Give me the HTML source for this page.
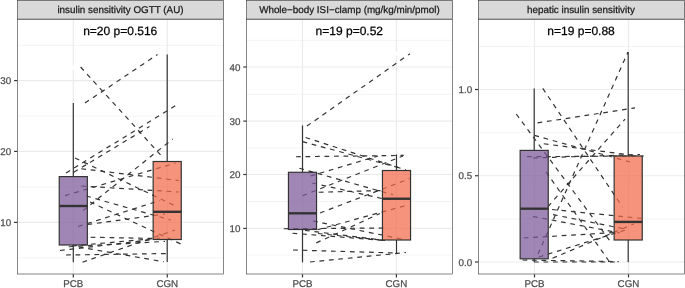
<!DOCTYPE html>
<html><head><meta charset="utf-8"><title>plot</title>
<style>html,body{margin:0;padding:0;background:#fff}svg{display:block}text{font-family:"Liberation Sans",Arial,Helvetica,sans-serif;text-rendering:geometricPrecision;paint-order:stroke;stroke-width:0.25px;stroke-linejoin:round}</style></head>
<body>
<svg width="685" height="288" viewBox="0 0 685 288">
<rect width="685" height="288" fill="#fff"/>
<g>
<clipPath id="c0"><rect x="17.2" y="19.35" width="206.60000000000002" height="254.95000000000002"/></clipPath>
<line x1="17.2" x2="223.8" y1="45.3" y2="45.3" stroke="#EBEBEB" stroke-width="0.59"/>
<line x1="17.2" x2="223.8" y1="116.1" y2="116.1" stroke="#EBEBEB" stroke-width="0.59"/>
<line x1="17.2" x2="223.8" y1="186.9" y2="186.9" stroke="#EBEBEB" stroke-width="0.59"/>
<line x1="17.2" x2="223.8" y1="257.8" y2="257.8" stroke="#EBEBEB" stroke-width="0.59"/>
<line x1="17.2" x2="223.8" y1="80.6" y2="80.6" stroke="#EBEBEB" stroke-width="1.19"/>
<line x1="17.2" x2="223.8" y1="151.4" y2="151.4" stroke="#EBEBEB" stroke-width="1.19"/>
<line x1="17.2" x2="223.8" y1="222.4" y2="222.4" stroke="#EBEBEB" stroke-width="1.19"/>
<line x1="73.3" x2="73.3" y1="19.35" y2="274.3" stroke="#EBEBEB" stroke-width="1.19"/>
<line x1="167.3" x2="167.3" y1="19.35" y2="274.3" stroke="#EBEBEB" stroke-width="1.19"/>
<g clip-path="url(#c0)" stroke="#333" stroke-width="1.19" stroke-dasharray="4.75 4.75" fill="none">
<line x1="80.6" y1="67" x2="162.5" y2="157"/>
<line x1="85" y1="103" x2="157.5" y2="54.5"/>
<line x1="66" y1="173" x2="178.2" y2="104"/>
<line x1="73.75" y1="172.25" x2="149.5" y2="126.5"/>
<line x1="83" y1="210.6" x2="172.7" y2="139"/>
<line x1="75" y1="158" x2="177.5" y2="207"/>
<line x1="81.25" y1="168.75" x2="178.75" y2="180.5"/>
<line x1="65" y1="195.6" x2="175.6" y2="163"/>
<line x1="81.25" y1="186" x2="178.75" y2="192"/>
<line x1="86.25" y1="196" x2="170.6" y2="220"/>
<line x1="90" y1="202" x2="184" y2="245.5"/>
<line x1="78" y1="226.5" x2="160" y2="200.5"/>
<line x1="87.5" y1="224.5" x2="165" y2="214"/>
<line x1="90.6" y1="237.25" x2="152" y2="238.4"/>
<line x1="60" y1="250.5" x2="158" y2="239"/>
<line x1="68.75" y1="246.75" x2="165" y2="241.4"/>
<line x1="72" y1="246" x2="160" y2="238"/>
<line x1="66" y1="255" x2="170" y2="253.5"/>
<line x1="78.75" y1="247" x2="163.75" y2="261.75"/>
<line x1="82.5" y1="262.25" x2="175" y2="230"/>
</g>
<line x1="73.3" x2="73.3" y1="103" y2="176.6" stroke="#333" stroke-width="1.19"/>
<line x1="73.3" x2="73.3" y1="245.0" y2="262.2" stroke="#333" stroke-width="1.19"/>
<rect x="59.25" y="176.6" width="28.1" height="68.4" fill="#7B5898" fill-opacity="0.72" stroke="#333" stroke-width="1.19"/>
<line x1="59.25" x2="87.35" y1="206.0" y2="206.0" stroke="#333" stroke-width="2.38"/>
<line x1="167.2" x2="167.2" y1="54.5" y2="161.5" stroke="#333" stroke-width="1.19"/>
<line x1="167.2" x2="167.2" y1="239.5" y2="262" stroke="#333" stroke-width="1.19"/>
<rect x="153.14999999999998" y="161.5" width="28.1" height="78.0" fill="#F16A49" fill-opacity="0.72" stroke="#333" stroke-width="1.19"/>
<line x1="153.14999999999998" x2="181.25" y1="211.8" y2="211.8" stroke="#333" stroke-width="2.38"/>
<circle cx="73.3" cy="67.6" r="2.3" fill="#fff"/>
<text x="120.20" y="35.4" font-size="12" text-anchor="middle" fill="#000" stroke="#000">n=20 p=0.516</text>
<rect x="17.50" y="19.65" width="206.01" height="254.36" fill="none" stroke="#333" stroke-width="0.59"/>
<rect x="17.2" y="0.2" width="206.60" height="19.15" fill="#D9D9D9"/>
<rect x="17.50" y="0.50" width="206.01" height="18.56" fill="none" stroke="#333" stroke-width="0.59"/>
<text x="120.50" y="13.3" font-size="9.86" text-anchor="middle" fill="#1A1A1A" stroke="#1A1A1A">insulin sensitivity OGTT (AU)</text>
<line x1="14.1" x2="17.2" y1="80.6" y2="80.6" stroke="#333" stroke-width="1.19"/>
<text x="11.20" y="84.1" font-size="9.8" text-anchor="end" fill="#4D4D4D" stroke="#4D4D4D">30</text>
<line x1="14.1" x2="17.2" y1="151.4" y2="151.4" stroke="#333" stroke-width="1.19"/>
<text x="11.20" y="154.9" font-size="9.8" text-anchor="end" fill="#4D4D4D" stroke="#4D4D4D">20</text>
<line x1="14.1" x2="17.2" y1="222.4" y2="222.4" stroke="#333" stroke-width="1.19"/>
<text x="11.20" y="225.9" font-size="9.8" text-anchor="end" fill="#4D4D4D" stroke="#4D4D4D">10</text>
<line x1="73.3" x2="73.3" y1="274.3" y2="277.40000000000003" stroke="#333" stroke-width="1.19"/>
<text x="73.3" y="287" font-size="9.8" text-anchor="middle" fill="#4D4D4D" stroke="#4D4D4D">PCB</text>
<line x1="167.3" x2="167.3" y1="274.3" y2="277.40000000000003" stroke="#333" stroke-width="1.19"/>
<text x="167.3" y="287" font-size="9.8" text-anchor="middle" fill="#4D4D4D" stroke="#4D4D4D">CGN</text>
</g>
<g>
<clipPath id="c1"><rect x="246.4" y="19.35" width="206.4" height="254.95000000000002"/></clipPath>
<line x1="246.4" x2="452.8" y1="40.3" y2="40.3" stroke="#EBEBEB" stroke-width="0.59"/>
<line x1="246.4" x2="452.8" y1="94.3" y2="94.3" stroke="#EBEBEB" stroke-width="0.59"/>
<line x1="246.4" x2="452.8" y1="148" y2="148" stroke="#EBEBEB" stroke-width="0.59"/>
<line x1="246.4" x2="452.8" y1="201.5" y2="201.5" stroke="#EBEBEB" stroke-width="0.59"/>
<line x1="246.4" x2="452.8" y1="255.1" y2="255.1" stroke="#EBEBEB" stroke-width="0.59"/>
<line x1="246.4" x2="452.8" y1="67" y2="67" stroke="#EBEBEB" stroke-width="1.19"/>
<line x1="246.4" x2="452.8" y1="121.1" y2="121.1" stroke="#EBEBEB" stroke-width="1.19"/>
<line x1="246.4" x2="452.8" y1="174.5" y2="174.5" stroke="#EBEBEB" stroke-width="1.19"/>
<line x1="246.4" x2="452.8" y1="228.4" y2="228.4" stroke="#EBEBEB" stroke-width="1.19"/>
<line x1="302.5" x2="302.5" y1="19.35" y2="274.3" stroke="#EBEBEB" stroke-width="1.19"/>
<line x1="396.4" x2="396.4" y1="19.35" y2="274.3" stroke="#EBEBEB" stroke-width="1.19"/>
<g clip-path="url(#c1)" stroke="#333" stroke-width="1.19" stroke-dasharray="4.75 4.75" fill="none">
<line x1="306.9" y1="126.1" x2="410" y2="53.7"/>
<line x1="305.6" y1="137.5" x2="406" y2="170"/>
<line x1="302.5" y1="141.6" x2="400" y2="168"/>
<line x1="296" y1="156.75" x2="403.75" y2="155.4"/>
<line x1="302.5" y1="195.75" x2="403" y2="156"/>
<line x1="310.6" y1="176" x2="378" y2="156"/>
<line x1="320" y1="213" x2="410" y2="178.5"/>
<line x1="299.4" y1="168.25" x2="393" y2="194.75"/>
<line x1="312.25" y1="183" x2="382" y2="198.5"/>
<line x1="318.75" y1="192.25" x2="382" y2="190.5"/>
<line x1="313" y1="221" x2="402.5" y2="239.2"/>
<line x1="317.5" y1="229.75" x2="405" y2="205.75"/>
<line x1="316.25" y1="242.9" x2="380" y2="213.5"/>
<line x1="283.75" y1="228.75" x2="386" y2="228"/>
<line x1="292.5" y1="233.25" x2="386" y2="240.6"/>
<line x1="305" y1="230.4" x2="390" y2="241"/>
<line x1="318" y1="233.5" x2="380" y2="240"/>
<line x1="293" y1="250" x2="396" y2="253"/>
<line x1="310" y1="262" x2="406" y2="252.5"/>
</g>
<line x1="302.5" x2="302.5" y1="125.4" y2="172.3" stroke="#333" stroke-width="1.19"/>
<line x1="302.5" x2="302.5" y1="229.5" y2="262.4" stroke="#333" stroke-width="1.19"/>
<rect x="288.45" y="172.3" width="28.1" height="57.19999999999999" fill="#7B5898" fill-opacity="0.72" stroke="#333" stroke-width="1.19"/>
<line x1="288.45" x2="316.55" y1="213.3" y2="213.3" stroke="#333" stroke-width="2.38"/>
<line x1="396.5" x2="396.5" y1="154.4" y2="170.5" stroke="#333" stroke-width="1.19"/>
<line x1="396.5" x2="396.5" y1="240" y2="253.5" stroke="#333" stroke-width="1.19"/>
<rect x="382.45" y="170.5" width="28.1" height="69.5" fill="#F16A49" fill-opacity="0.72" stroke="#333" stroke-width="1.19"/>
<line x1="382.45" x2="410.55" y1="198.75" y2="198.75" stroke="#333" stroke-width="2.38"/>
<circle cx="396.4" cy="53.3" r="2.3" fill="#fff"/>
<text x="349.30" y="35.4" font-size="12" text-anchor="middle" fill="#000" stroke="#000">n=19 p=0.52</text>
<rect x="246.70" y="19.65" width="205.81" height="254.36" fill="none" stroke="#333" stroke-width="0.59"/>
<rect x="246.4" y="0.2" width="206.40" height="19.15" fill="#D9D9D9"/>
<rect x="246.70" y="0.50" width="205.81" height="18.56" fill="none" stroke="#333" stroke-width="0.59"/>
<text x="349.40" y="13.3" font-size="9.86" text-anchor="middle" fill="#1A1A1A" stroke="#1A1A1A">Whole−body ISI−clamp (mg/kg/min/pmol)</text>
<line x1="243.3" x2="246.4" y1="67" y2="67" stroke="#333" stroke-width="1.19"/>
<text x="240.40" y="70.5" font-size="9.8" text-anchor="end" fill="#4D4D4D" stroke="#4D4D4D">40</text>
<line x1="243.3" x2="246.4" y1="121.1" y2="121.1" stroke="#333" stroke-width="1.19"/>
<text x="240.40" y="124.6" font-size="9.8" text-anchor="end" fill="#4D4D4D" stroke="#4D4D4D">30</text>
<line x1="243.3" x2="246.4" y1="174.5" y2="174.5" stroke="#333" stroke-width="1.19"/>
<text x="240.40" y="178.0" font-size="9.8" text-anchor="end" fill="#4D4D4D" stroke="#4D4D4D">20</text>
<line x1="243.3" x2="246.4" y1="228.4" y2="228.4" stroke="#333" stroke-width="1.19"/>
<text x="240.40" y="231.9" font-size="9.8" text-anchor="end" fill="#4D4D4D" stroke="#4D4D4D">10</text>
<line x1="302.5" x2="302.5" y1="274.3" y2="277.40000000000003" stroke="#333" stroke-width="1.19"/>
<text x="302.5" y="287" font-size="9.8" text-anchor="middle" fill="#4D4D4D" stroke="#4D4D4D">PCB</text>
<line x1="396.4" x2="396.4" y1="274.3" y2="277.40000000000003" stroke="#333" stroke-width="1.19"/>
<text x="396.4" y="287" font-size="9.8" text-anchor="middle" fill="#4D4D4D" stroke="#4D4D4D">CGN</text>
</g>
<g>
<clipPath id="c2"><rect x="478.1" y="19.35" width="206.89999999999998" height="254.95000000000002"/></clipPath>
<line x1="478.1" x2="685.0" y1="46.4" y2="46.4" stroke="#EBEBEB" stroke-width="0.59"/>
<line x1="478.1" x2="685.0" y1="132.6" y2="132.6" stroke="#EBEBEB" stroke-width="0.59"/>
<line x1="478.1" x2="685.0" y1="218.9" y2="218.9" stroke="#EBEBEB" stroke-width="0.59"/>
<line x1="478.1" x2="685.0" y1="89.5" y2="89.5" stroke="#EBEBEB" stroke-width="1.19"/>
<line x1="478.1" x2="685.0" y1="175.75" y2="175.75" stroke="#EBEBEB" stroke-width="1.19"/>
<line x1="478.1" x2="685.0" y1="262" y2="262" stroke="#EBEBEB" stroke-width="1.19"/>
<line x1="534.5" x2="534.5" y1="19.35" y2="274.3" stroke="#EBEBEB" stroke-width="1.19"/>
<line x1="628.5" x2="628.5" y1="19.35" y2="274.3" stroke="#EBEBEB" stroke-width="1.19"/>
<g clip-path="url(#c2)" stroke="#333" stroke-width="1.19" stroke-dasharray="4.75 4.75" fill="none">
<line x1="542.75" y1="88.4" x2="622.5" y2="207"/>
<line x1="516.25" y1="114" x2="610" y2="241"/>
<line x1="537.5" y1="122.9" x2="635" y2="107.9"/>
<line x1="534.4" y1="135.4" x2="630" y2="162"/>
<line x1="543.75" y1="143.75" x2="635" y2="155.6"/>
<line x1="538" y1="254" x2="628" y2="52"/>
<line x1="527" y1="156.7" x2="643.75" y2="156"/>
<line x1="533" y1="158" x2="640" y2="154.5"/>
<line x1="548" y1="206.6" x2="625" y2="119.1"/>
<line x1="546.05" y1="171.95" x2="608.75" y2="260.75"/>
<line x1="552" y1="209.5" x2="641.25" y2="218.4"/>
<line x1="533" y1="216.5" x2="620" y2="233"/>
<line x1="553" y1="214.6" x2="625" y2="229"/>
<line x1="523.75" y1="238" x2="615" y2="232.5"/>
<line x1="538.75" y1="257" x2="625" y2="230.2"/>
<line x1="552.5" y1="258.25" x2="633.75" y2="224"/>
<line x1="522.5" y1="260" x2="618.75" y2="261.6"/>
<line x1="534" y1="262" x2="615" y2="262"/>
</g>
<line x1="534.2" x2="534.2" y1="88.4" y2="150.4" stroke="#333" stroke-width="1.19"/>
<line x1="534.2" x2="534.2" y1="258.8" y2="262" stroke="#333" stroke-width="1.19"/>
<rect x="520.1500000000001" y="150.4" width="28.1" height="108.4" fill="#7B5898" fill-opacity="0.72" stroke="#333" stroke-width="1.19"/>
<line x1="520.1500000000001" x2="548.25" y1="208.7" y2="208.7" stroke="#333" stroke-width="2.38"/>
<line x1="628.2" x2="628.2" y1="52" y2="156" stroke="#333" stroke-width="1.19"/>
<line x1="628.2" x2="628.2" y1="240" y2="262.2" stroke="#333" stroke-width="1.19"/>
<rect x="614.1500000000001" y="156" width="28.1" height="84" fill="#F16A49" fill-opacity="0.72" stroke="#333" stroke-width="1.19"/>
<line x1="614.1500000000001" x2="642.25" y1="221.9" y2="221.9" stroke="#333" stroke-width="2.38"/>
<text x="581.05" y="35.4" font-size="12" text-anchor="middle" fill="#000" stroke="#000">n=19 p=0.88</text>
<rect x="478.40" y="19.65" width="206.30" height="254.36" fill="none" stroke="#333" stroke-width="0.59"/>
<rect x="478.1" y="0.2" width="206.90" height="19.15" fill="#D9D9D9"/>
<rect x="478.40" y="0.50" width="206.30" height="18.56" fill="none" stroke="#333" stroke-width="0.59"/>
<text x="580.95" y="13.3" font-size="9.86" text-anchor="middle" fill="#1A1A1A" stroke="#1A1A1A">hepatic insulin sensitivity</text>
<line x1="475.0" x2="478.1" y1="89.5" y2="89.5" stroke="#333" stroke-width="1.19"/>
<text x="472.10" y="93.0" font-size="9.8" text-anchor="end" fill="#4D4D4D" stroke="#4D4D4D">1.0</text>
<line x1="475.0" x2="478.1" y1="175.75" y2="175.75" stroke="#333" stroke-width="1.19"/>
<text x="472.10" y="179.25" font-size="9.8" text-anchor="end" fill="#4D4D4D" stroke="#4D4D4D">0.5</text>
<line x1="475.0" x2="478.1" y1="262" y2="262" stroke="#333" stroke-width="1.19"/>
<text x="472.10" y="265.5" font-size="9.8" text-anchor="end" fill="#4D4D4D" stroke="#4D4D4D">0.0</text>
<line x1="534.5" x2="534.5" y1="274.3" y2="277.40000000000003" stroke="#333" stroke-width="1.19"/>
<text x="534.5" y="287" font-size="9.8" text-anchor="middle" fill="#4D4D4D" stroke="#4D4D4D">PCB</text>
<line x1="628.5" x2="628.5" y1="274.3" y2="277.40000000000003" stroke="#333" stroke-width="1.19"/>
<text x="628.5" y="287" font-size="9.8" text-anchor="middle" fill="#4D4D4D" stroke="#4D4D4D">CGN</text>
</g>
</svg>
</body></html>
